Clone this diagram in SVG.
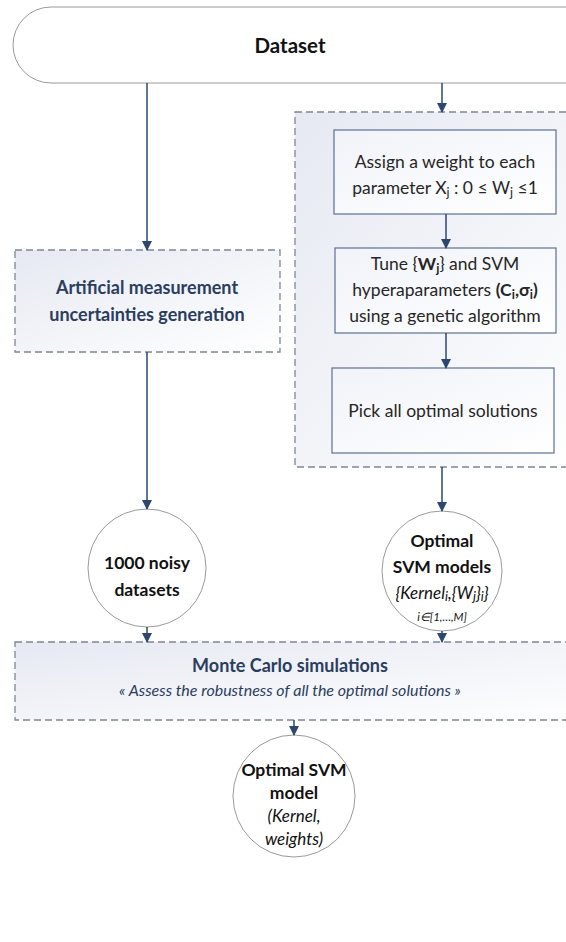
<svg xmlns="http://www.w3.org/2000/svg" width="566" height="942" viewBox="0 0 566 942">
<defs>
<linearGradient id="gb" x1="0" y1="0" x2="1" y2="1">
<stop offset="0" stop-color="#e6e9f2"/>
<stop offset="1" stop-color="#ffffff"/>
</linearGradient>
<linearGradient id="gc" x1="0" y1="0" x2="1" y2="1">
<stop offset="0" stop-color="#f1f3f9"/>
<stop offset="1" stop-color="#ffffff"/>
</linearGradient>
<marker id="ah" viewBox="0 0 10 10" refX="9" refY="5" markerWidth="10" markerHeight="10" markerUnits="userSpaceOnUse" orient="auto">
<path d="M0,0 L10,5 L0,10 z" fill="#2c4770"/>
</marker>
</defs>
<style>
text{font-family:Lato,"Open Sans","Liberation Sans",sans-serif;text-anchor:middle}
.dash{fill:url(#gb);stroke:#7e8796;stroke-width:1.3;stroke-dasharray:7,4}
.box{fill:url(#gc);stroke:#5d7090;stroke-width:1.2}
.circ{fill:#ffffff;stroke:#9a9a9a;stroke-width:1}
.con{fill:none;stroke:#2c4770;stroke-width:1.5;marker-end:url(#ah)}
.t{font-size:17.5px;fill:#262626}
.bb{font-size:18px;font-weight:bold;fill:#2b3d5f}
.ct{font-size:17.5px;font-weight:bold;fill:#111}
.ci{font-size:17px;font-style:italic;fill:#111}
</style>
<rect width="566" height="942" fill="#fff"/>

<g id="dataset">
<rect x="13" y="7" width="592" height="76" rx="38" ry="38" fill="#fff" stroke="#9a9a9a" stroke-width="1"/>
<text x="290" y="53" font-size="20.5" font-weight="bold" fill="#111">Dataset</text>
</g>

<g id="container">
<rect class="dash" x="295" y="112" width="300" height="355"/>
</g>

<g id="assign">
<rect class="box" x="334" y="130" width="222" height="84"/>
<text class="t" x="445" y="168">Assign a weight to each</text>
<text class="t" x="445" y="194">parameter X<tspan font-size="12.5" dy="3">j</tspan><tspan dy="-3"> : 0 ≤ W</tspan><tspan font-size="12.5" dy="3">j</tspan><tspan dy="-3"> ≤1</tspan></text>
</g>

<g id="tune">
<rect class="box" x="335" y="248" width="221" height="85"/>
<text class="t" x="445" y="270">Tune {<tspan font-weight="bold">W</tspan><tspan font-size="12.5" font-weight="bold" dy="3">j</tspan><tspan dy="-3">} and SVM</tspan></text>
<text class="t" x="445" y="296">hyperaparameters <tspan font-weight="bold">(C</tspan><tspan font-size="12.5" font-weight="bold" dy="3">i</tspan><tspan font-weight="bold" dy="-3">,σ</tspan><tspan font-size="12.5" font-weight="bold" dy="3">i</tspan><tspan font-weight="bold" dy="-3">)</tspan></text>
<text class="t" x="445" y="322">using a genetic algorithm</text>
</g>

<g id="pick">
<rect class="box" x="332" y="368" width="222" height="85"/>
<text class="t" x="443" y="417">Pick all optimal solutions</text>
</g>

<g id="artificial">
<rect class="dash" x="15" y="250" width="265" height="102"/>
<text class="bb" x="147" y="294">Artificial measurement</text>
<text class="bb" x="147" y="321">uncertainties generation</text>
</g>

<g id="noisy">
<circle class="circ" cx="147" cy="568" r="59"/>
<text class="ct" x="147" y="569">1000 noisy</text>
<text class="ct" x="147" y="596">datasets</text>
</g>

<g id="svmmodels">
<circle class="circ" cx="442" cy="571" r="60"/>
<text class="ct" x="442" y="547">Optimal</text>
<text class="ct" x="442" y="573">SVM models</text>
<text class="ci" x="442" y="599">{Kernel<tspan font-size="13" dy="2">i</tspan><tspan dy="-2">,{W</tspan><tspan font-size="13" dy="2">j</tspan><tspan dy="-2">}</tspan><tspan font-size="13" dy="2">i</tspan><tspan dy="-2">}</tspan></text>
<text x="442" y="621" font-size="11.5" font-style="italic" fill="#111">i∈[1,…,M]</text>
</g>

<g id="montecarlo">
<rect class="dash" x="15" y="642" width="590" height="78"/>
<text class="bb" x="290" y="672" font-size="17">Monte Carlo simulations</text>
<text x="290" y="696" font-size="16" font-style="italic" fill="#2b3d5f">« Assess the robustness of all the optimal solutions »</text>
</g>

<g id="final">
<circle class="circ" cx="294" cy="796" r="61"/>
<text class="ct" x="294" y="776">Optimal SVM</text>
<text class="ct" x="294" y="799">model</text>
<text class="ci" x="294" y="822">(Kernel,</text>
<text class="ci" x="294" y="845">weights)</text>
</g>

<g id="connectors">
<line class="con" x1="147" y1="83" x2="147" y2="250"/>
<line class="con" x1="442" y1="83" x2="442" y2="112"/>
<line class="con" x1="446" y1="214" x2="446" y2="248"/>
<line class="con" x1="446" y1="333" x2="446" y2="368"/>
<line class="con" x1="147" y1="352" x2="147" y2="509"/>
<line class="con" x1="442" y1="467" x2="442" y2="511"/>
<line class="con" x1="147" y1="627" x2="147" y2="642"/>
<line class="con" x1="442" y1="631" x2="442" y2="642"/>
<line class="con" x1="294" y1="720" x2="294" y2="735"/>
</g>
</svg>
